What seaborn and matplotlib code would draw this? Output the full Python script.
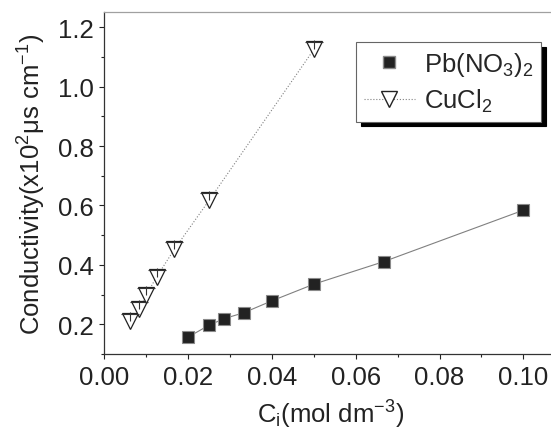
import numpy as np
import pandas as pd
import matplotlib
matplotlib.use('Agg')
import matplotlib.pyplot as plt
from matplotlib.lines import Line2D
from matplotlib.path import Path
import matplotlib.ticker as ticker
import seaborn as sns

# values
pb_conc = [0.02, 0.025, 0.0286, 0.0333, 0.04, 0.05, 0.0667, 0.10]
pb_cond = [0.157, 0.197, 0.219, 0.239, 0.279, 0.335, 0.411, 0.584]
cu_conc = [0.00625, 0.00833, 0.01, 0.0125, 0.0167, 0.025, 0.05]
cu_cond = [0.210, 0.250, 0.298, 0.360, 0.452, 0.617, 1.125]
labels = ['Pb(NO$_3$)$_2$', 'CuCl$_2$']

sns.set_style('ticks')
plt.rcParams['font.family'] = ['Liberation Sans', 'DejaVu Sans']
plt.rcParams['mathtext.fontset'] = 'custom'
plt.rcParams['mathtext.rm'] = 'Liberation Sans'
plt.rcParams['mathtext.it'] = 'Liberation Sans:italic'
plt.rcParams['mathtext.default'] = 'regular'

FS = 18.5
pb = pd.DataFrame({'c': pb_conc, 'k': pb_cond})
cu = pd.DataFrame({'c': cu_conc, 'k': cu_cond})

# small cross drawn on the open triangles (bar near top, stem upward)
cross = Path([(-1, 0.7), (1, 0.7), (0, 1.0), (0, 0.0)],
             [Path.MOVETO, Path.LINETO, Path.MOVETO, Path.LINETO])

W, H = 551, 431
fig = plt.figure(figsize=(W/100, H/100), dpi=100)
ax = fig.add_axes([104.3/W, 1-355/H, (W*1.01-104.3)/W, (355-13.3)/H])

sns.lineplot(data=pb, x='c', y='k', ax=ax, color='#808080', lw=0.8, marker='s',
             markersize=9, markerfacecolor='#222222', markeredgecolor='#8a8a8a',
             markeredgewidth=0.8, zorder=3)
sns.lineplot(data=cu, x='c', y='k', ax=ax, color='#808080', lw=0.8, ls=':',
             marker='v', markersize=11, markerfacecolor='white',
             markeredgecolor='#222222', markeredgewidth=0.9, zorder=3)
ax.plot(cu['c'], cu['k'], ls='none', marker=cross, markersize=13.5,
        markeredgecolor='#333333', markeredgewidth=0.8, zorder=4)

ax.set_xlim(0.0, 0.1079)
ax.set_ylim(0.1, 1.25)
ax.xaxis.set_major_locator(ticker.MultipleLocator(0.02))
ax.xaxis.set_minor_locator(ticker.MultipleLocator(0.01))
ax.yaxis.set_major_locator(ticker.MultipleLocator(0.2))
ax.yaxis.set_minor_locator(ticker.MultipleLocator(0.1))
ax.xaxis.set_major_formatter(ticker.FormatStrFormatter('%.2f'))
ax.yaxis.set_major_formatter(ticker.FormatStrFormatter('%.1f'))
ax.tick_params(which='major', length=3.6, width=0.8, labelsize=FS, pad=4,
               colors='#222222')
ax.tick_params(which='minor', length=2.2, width=0.8, colors='#222222')
for s in ax.spines.values():
    s.set_color('#333333')
    s.set_linewidth(0.9)
ax.spines['top'].set_color('#a0a0a0')
ax.spines['right'].set_visible(False)

ax.set_xlabel('C$_i$(mol dm$^{-3}$)', fontsize=FS, labelpad=7, color='#222222')
ax.set_ylabel('Conductivity(x10$^2$μs cm$^{-1}$)', fontsize=FS, labelpad=7,
              color='#222222')

handles = [
    Line2D([], [], ls='none', marker='s', markersize=9, markerfacecolor='#222222',
           markeredgecolor='#8a8a8a'),
    Line2D([], [], color='#808080', lw=0.8, ls=':', marker='v', markersize=11,
           markerfacecolor='white', markeredgecolor='#222222'),
]
leg = ax.legend(handles, labels, loc='upper left',
                bbox_to_anchor=(356/W, 1-43/H), bbox_transform=fig.transFigure,
                fontsize=FS, frameon=True, fancybox=False,
                shadow={'color': 'black', 'ox': 3.4, 'oy': -3.4, 'alpha': 1},
                handlelength=2.0, borderpad=0.3, labelspacing=0.35,
                handletextpad=0.35, borderaxespad=0)
leg.get_frame().set_edgecolor('#666666')
leg.get_frame().set_linewidth(0.8)

fig.savefig('out.png', dpi=100)
